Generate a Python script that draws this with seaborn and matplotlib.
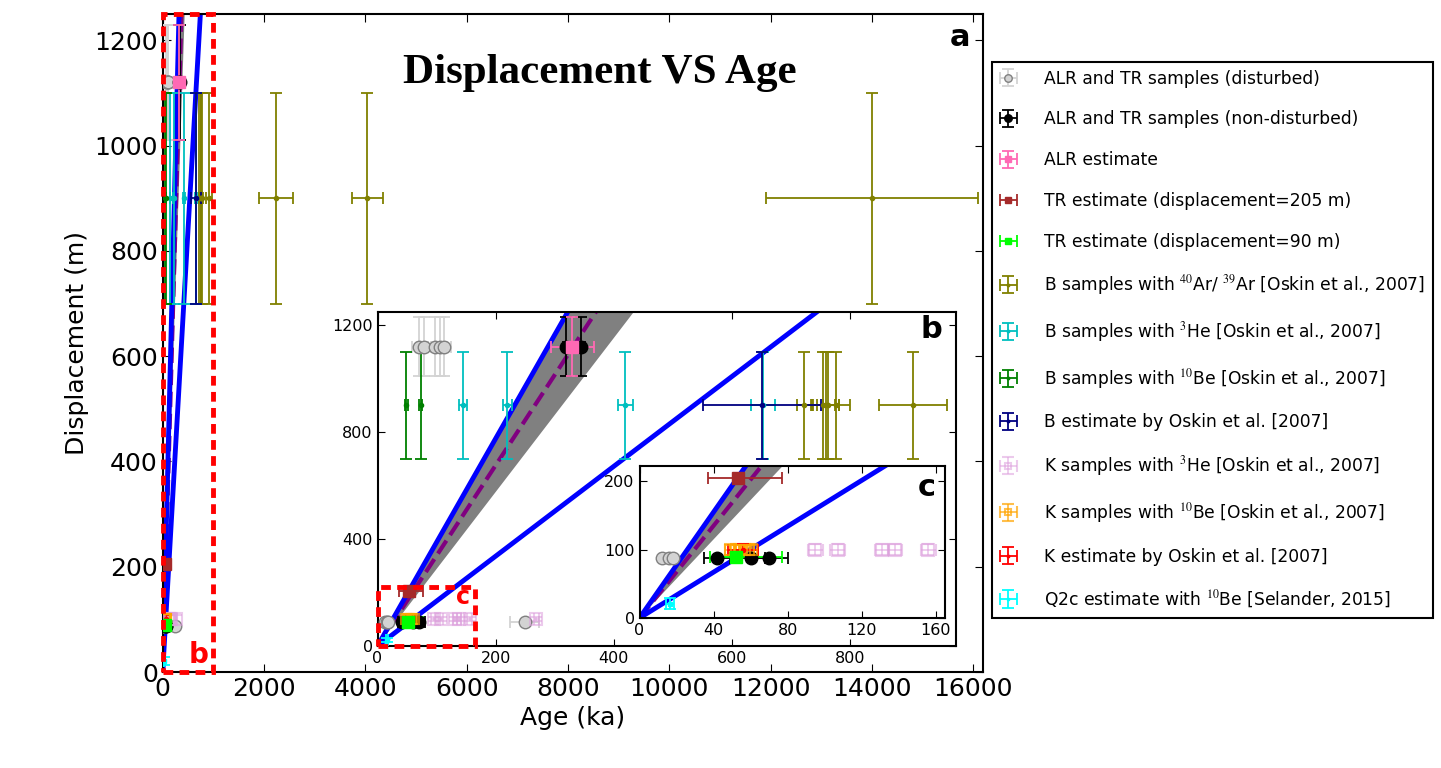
import numpy as np
import matplotlib
matplotlib.use("Agg")
import matplotlib.pyplot as plt
import seaborn as sns
from matplotlib.patches import Rectangle

# ages in ka, displacements in m
dist_age = [12, 16, 18, 249, 71, 79, 97, 105, 113]
dist_age_err = [1, 1, 1, 25, 12, 12, 12, 12, 12]
dist_disp = [88, 88, 88, 88, 1120, 1120, 1120, 1120, 1120]
dist_disp_err = [0, 0, 0, 0, 110, 110, 110, 110, 110]

nd_age = [42, 60, 70, 320, 345]
nd_age_err = [7, 8, 10, 6, 6]
nd_disp = [88, 88, 88, 1120, 1120]
nd_disp_err = [0, 0, 0, 110, 110]

alr_age = [330]
alr_age_err = [37]
alr_disp = [1120]
alr_disp_err = [110]

tr205_age = [53]
tr205_age_err = [[16], [24]]
tr205_disp = [205]

tr90_age = [52]
tr90_age_err = [[14], [25]]
tr90_disp = [90]

b_ar_age = [723, 755, 760, 763, 777, 907, 2230, 4040, 14000]
b_ar_age_err = [13, 20, 22, 18, 23, 58, 335, 310, 2100]
b_he_age = [145, 220, 420, 653]
b_he_age_err = [6.5, 7, 13.5, 20]
b_be_age = [49, 73]
b_be_age_err = [2, 2]
b_est_age = [651]
b_est_age_err = [100]
b_disp = 900
b_disp_err = 200

k_he_age = [95, 107, 131, 138, 156, 269]
k_he_age_err = 4
k_be_age = [49, 52, 54, 57, 59, 61]
k_be_age_err = 3
k_est_age = [56]
k_est_age_err = [8]
k_disp = 100
k_disp_err = 8

q2c_age = [16.5]
q2c_age_err = [2]
q2c_disp = [21]
q2c_disp_err = [8]

# slip rates (m/ka)
blue_slopes = [3.88, 1.68]
band_slopes = [2.88, 3.88]
mean_slope = 3.38

LABELS = [
    "ALR and TR samples (disturbed)",
    "ALR and TR samples (non-disturbed)",
    "ALR estimate",
    "TR estimate (displacement=205 m)",
    "TR estimate (displacement=90 m)",
    r"B samples with $^{40}$Ar/ $^{39}$Ar [Oskin et al., 2007]",
    r"B samples with $^{3}$He [Oskin et al., 2007]",
    r"B samples with $^{10}$Be [Oskin et al., 2007]",
    "B estimate by Oskin et al. [2007]",
    r"K samples with $^{3}$He [Oskin et al., 2007]",
    r"K samples with $^{10}$Be [Oskin et al., 2007]",
    "K estimate by Oskin et al. [2007]",
    r"Q2c estimate with $^{10}$Be [Selander, 2015]",
]

sns.set_style("ticks", {"xtick.direction": "in", "ytick.direction": "in",
                        "axes.edgecolor": "black"})
plt.rcParams["font.family"] = ["DejaVu Sans"]
plt.rcParams["mathtext.fontset"] = "stix"
plt.rcParams["xtick.top"] = True
plt.rcParams["ytick.right"] = True
plt.rcParams["axes.linewidth"] = 1.5
plt.rcParams["xtick.major.size"] = 6
plt.rcParams["ytick.major.size"] = 6
for key in ["text.color", "axes.labelcolor", "xtick.color", "ytick.color"]:
    plt.rcParams[key] = "black"


def draw(ax, with_labels=False):
    lab = LABELS if with_labels else [None] * len(LABELS)
    x = np.array([0.0, 1500.0])
    ax.fill_between(x, band_slopes[0] * x, band_slopes[1] * x,
                    color="gray", lw=0, zorder=1)
    sns.lineplot(x=x, y=mean_slope * x, ax=ax, color="purple", lw=3,
                 linestyle="--", zorder=2)
    for s in blue_slopes:
        sns.lineplot(x=x, y=s * x, ax=ax, color="blue", lw=3.5, zorder=2)

    eb = dict(capsize=4.5, elinewidth=1.3, capthick=1.3, zorder=3, ls="none")
    ax.errorbar(dist_age, dist_disp, xerr=dist_age_err, yerr=dist_disp_err,
                fmt="o", ms=9, mfc="lightgray", mec="gray", ecolor="lightgray",
                label=lab[0], **eb)
    ax.errorbar(nd_age, nd_disp, xerr=nd_age_err, yerr=nd_disp_err,
                fmt="o", ms=9, color="black", label=lab[1], **eb)
    ax.errorbar(b_ar_age, [b_disp] * len(b_ar_age), xerr=b_ar_age_err,
                yerr=b_disp_err, fmt=".", ms=6, color="olive", label=lab[5], **eb)
    ax.errorbar(b_he_age, [b_disp] * len(b_he_age), xerr=b_he_age_err,
                yerr=b_disp_err, fmt=".", ms=6, color="c", label=lab[6], **eb)
    ax.errorbar(b_be_age, [b_disp] * len(b_be_age), xerr=b_be_age_err,
                yerr=b_disp_err, fmt=".", ms=6, color="g", label=lab[7], **eb)
    ax.errorbar(b_est_age, [b_disp], xerr=b_est_age_err, yerr=b_disp_err,
                fmt=".", ms=6, color="navy", label=lab[8], **eb)
    ax.errorbar(k_he_age, [k_disp] * len(k_he_age), xerr=k_he_age_err,
                yerr=k_disp_err, fmt="s", ms=8, color="plum", alpha=0.55,
                mfc="none", mew=1.5, label=lab[9], **eb)
    ax.errorbar(k_be_age, [k_disp] * len(k_be_age), xerr=k_be_age_err,
                yerr=k_disp_err, fmt="s", ms=7, color="orange", alpha=0.7,
                mfc="none", mew=1.5, label=lab[10], **eb)
    ax.errorbar(k_est_age, [k_disp], xerr=k_est_age_err, yerr=k_disp_err,
                fmt=".", ms=6, color="red", label=lab[11], **eb)
    ax.errorbar(alr_age, alr_disp, xerr=alr_age_err, yerr=alr_disp_err,
                fmt="s", ms=8, color="hotpink", label=lab[2], **eb)
    ax.errorbar(tr205_age, tr205_disp, xerr=tr205_age_err,
                fmt="s", ms=8, color="brown", label=lab[3], **eb)
    ax.errorbar(tr90_age, tr90_disp, xerr=tr90_age_err,
                fmt="s", ms=8, color="lime", label=lab[4], **eb)
    ax.errorbar(q2c_age, q2c_disp, xerr=q2c_age_err, yerr=q2c_disp_err,
                fmt="s", ms=3, color="cyan", label=lab[12], **eb)


fig = plt.figure(figsize=(14.41, 7.68), dpi=100)

ax = fig.add_axes([0.1129, 0.125, 0.5695, 0.8568])
draw(ax, with_labels=True)
ax.set_xlim(0, 16200)
ax.set_ylim(0, 1250)
ax.set_xticks(np.arange(0, 16001, 2000))
ax.set_yticks(np.arange(0, 1201, 200))
ax.tick_params(labelsize=18)
ax.set_xlabel("Age (ka)", fontsize=18)
ax.set_ylabel("Displacement (m)", fontsize=18)
ax.add_patch(Rectangle((0, 0), 1000, 1250, fill=False, ec="red", lw=3.5,
                       ls=(0, (2, 1.3)), clip_on=False, zorder=5))
ax.text(716, 32, "b", color="red", fontsize=20, fontweight="bold",
        ha="center", va="center")
ax.text(0.533, 0.91, "Displacement VS Age", transform=ax.transAxes,
        family="Liberation Serif", fontweight="bold", fontsize=31,
        ha="center", va="center")
ax.text(0.971, 0.965, "a", transform=ax.transAxes, fontsize=22,
        fontweight="bold", ha="center", va="center")

axb = fig.add_axes([0.262, 0.1589, 0.4015, 0.4349])
draw(axb)
axb.set_xlim(0, 980)
axb.set_ylim(0, 1250)
axb.set_xticks(np.arange(0, 801, 200))
axb.set_yticks(np.arange(0, 1201, 400))
axb.tick_params(labelsize=11.5, length=5)
axb.add_patch(Rectangle((0, 0), 165, 222, fill=False, ec="red", lw=3.5,
                        ls=(0, (2, 1.3)), clip_on=False, zorder=5))
axb.text(144, 183, "c", color="red", fontsize=17, fontweight="bold",
         ha="center", va="center")
axb.text(0.957, 0.946, "b", transform=axb.transAxes, fontsize=22,
         fontweight="bold", ha="center", va="center")

axc = fig.add_axes([0.4438, 0.1953, 0.212, 0.1973])
draw(axc)
axc.set_xlim(0, 165)
axc.set_ylim(0, 222)
axc.set_xticks(np.arange(0, 161, 40))
axc.set_yticks([0, 100, 200])
axc.tick_params(labelsize=11.5, length=5)
axc.text(0.94, 0.86, "c", transform=axc.transAxes, fontsize=22,
         fontweight="bold", ha="center", va="center")

for a in (ax, axb, axc):
    if a.get_legend() is not None:
        a.get_legend().remove()

handles, labels = ax.get_legend_handles_labels()
order = [labels.index(l) for l in LABELS]
leg = fig.legend([handles[i] for i in order], [labels[i] for i in order],
                 loc="upper left", bbox_to_anchor=(992 / 1441, 1 - 62 / 768),
                 borderaxespad=0, fontsize=12.3, labelspacing=1.33,
                 handlelength=1.0, handletextpad=1.6, borderpad=0.45,
                 fancybox=False, framealpha=1, edgecolor="black", markerscale=0.6)
leg.get_frame().set_linewidth(1.5)

plt.savefig("out.png", dpi=100)
